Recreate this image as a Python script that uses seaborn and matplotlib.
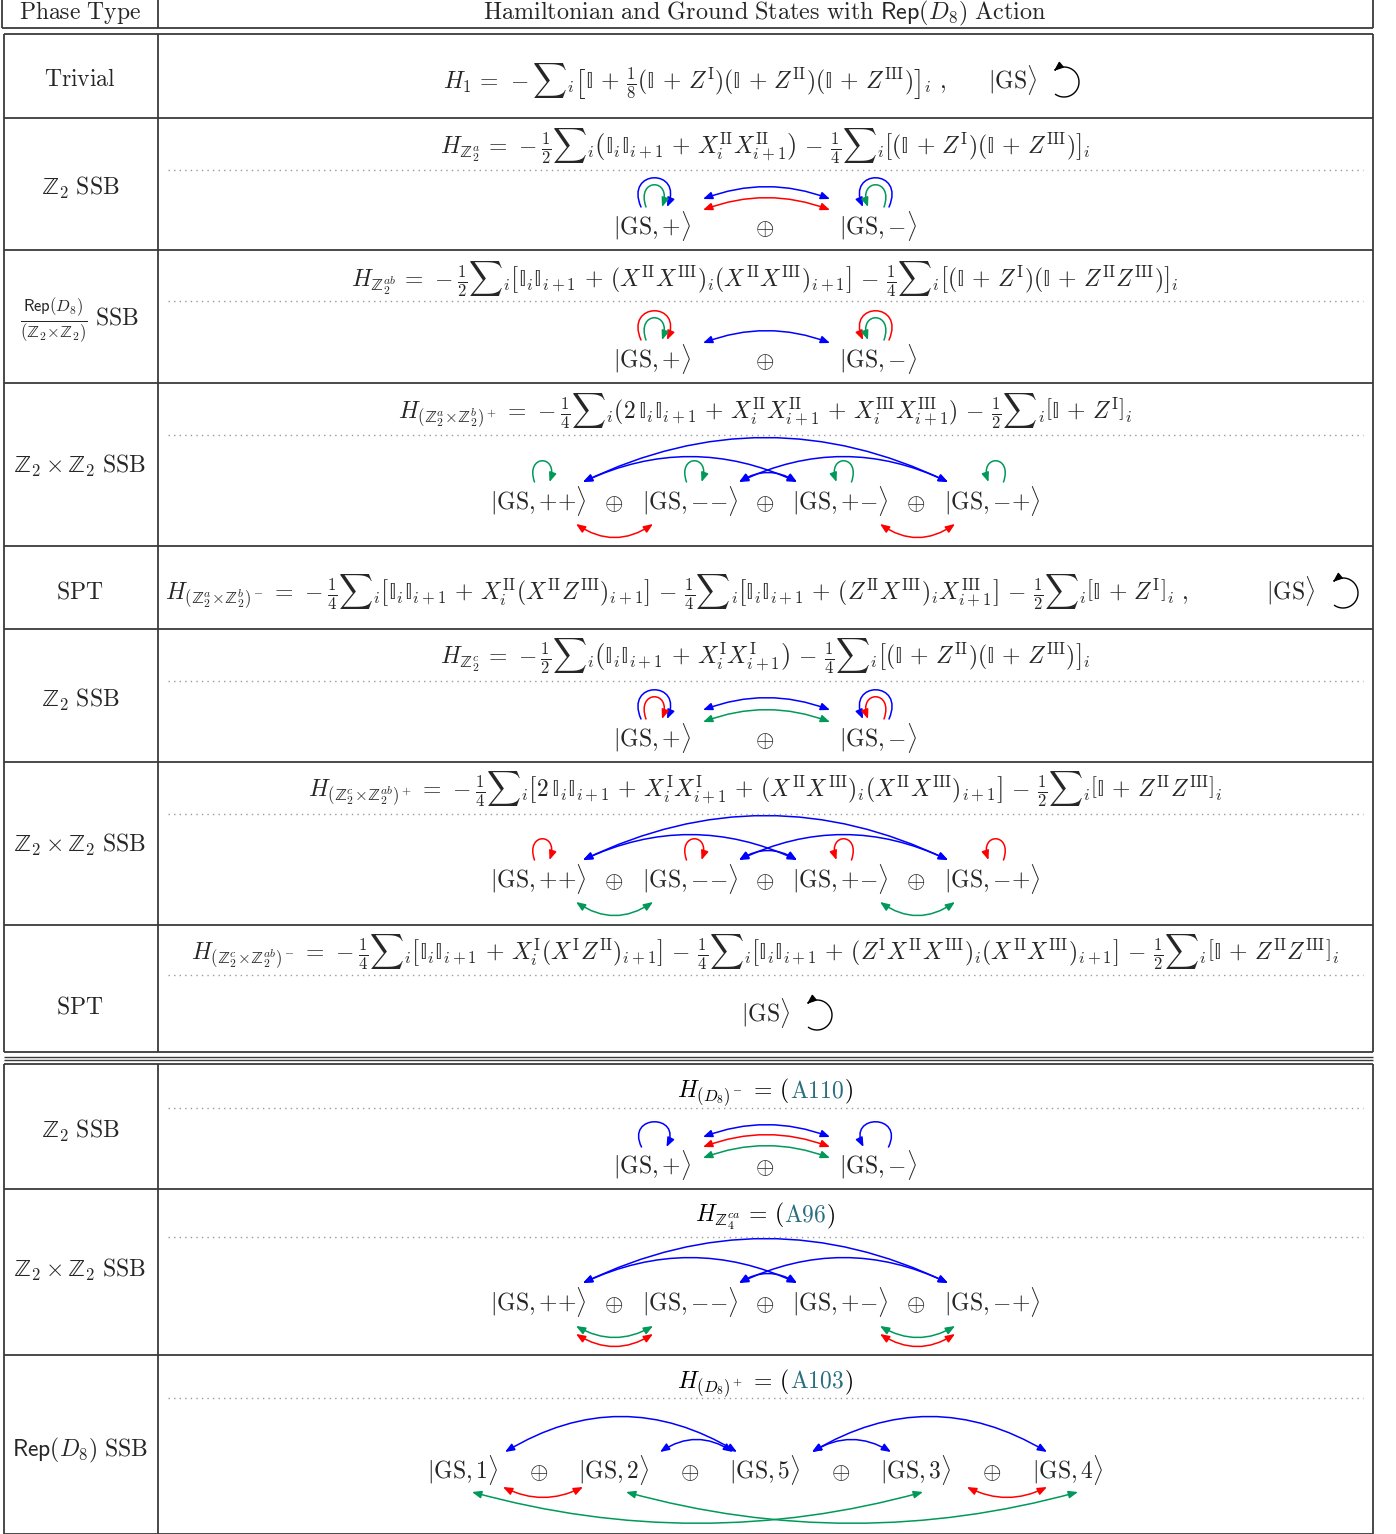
import matplotlib
matplotlib.use("Agg")
import matplotlib.pyplot as plt
import seaborn as sns
import numpy as np
from matplotlib.patches import FancyArrowPatch, ArrowStyle
from matplotlib.path import Path

sns.set_theme(style="white")
plt.rcParams["mathtext.fontset"] = "cm"
plt.rcParams["font.family"] = ["DejaVu Serif"]

BLUE, RED, GREEN, TEAL = "#0000ff", "#ff0000", "#00995a", "#2b6e80"
LINE = "#3a3a3a"
FS = 17

# ---------------- data ----------------
header_left = r"$\mathrm{Phase\ Type}$"
header_right = r"$\mathrm{Hamiltonian\ and\ Ground\ States\ with\ }\mathsf{Rep}(D_8)\mathrm{\ Action}$"

phase_types = [
    r"$\mathrm{Trivial}$",
    r"$ZZ_2\ \mathrm{SSB}$",
    r"$\frac{\mathsf{Rep}(D_8)}{(ZZ_2\!\times\!ZZ_2)}\ \mathrm{SSB}$",
    r"$ZZ_2 \times ZZ_2\ \mathrm{SSB}$",
    r"$\mathrm{SPT}$",
    r"$ZZ_2\ \mathrm{SSB}$",
    r"$ZZ_2 \times ZZ_2\ \mathrm{SSB}$",
    r"$\mathrm{SPT}$",
    r"$ZZ_2\ \mathrm{SSB}$",
    r"$ZZ_2 \times ZZ_2\ \mathrm{SSB}$",
    r"$\mathsf{Rep}(D_8)\ \mathrm{SSB}$",
]
label_y = [80, 188, 321, 466, 592, 700, 845, 1007, 1131, 1270, 1450]

# "II" = blackboard identity, "ZZ" = blackboard Z (expanded below)
hamiltonians = [
    r"$H_1 = -{\sum}_i \left[II + \frac{1}{8}(II + Z^{\mathrm{I}})(II + Z^{\mathrm{II}})(II + Z^{\mathrm{III}})\right]_i\ ,$",
    r"$H_{ZZ_2^a} = -\frac{1}{2}{\sum}_i \left(II_iII_{i+1} + X_i^{\mathrm{II}}X_{i+1}^{\mathrm{II}}\right) - \frac{1}{4}{\sum}_i \left[(II + Z^{\mathrm{I}})(II + Z^{\mathrm{III}})\right]_i$",
    r"$H_{ZZ_2^{ab}} = -\frac{1}{2}{\sum}_i \left[II_iII_{i+1} + (X^{\mathrm{II}}X^{\mathrm{III}})_i(X^{\mathrm{II}}X^{\mathrm{III}})_{i+1}\right] - \frac{1}{4}{\sum}_i \left[(II + Z^{\mathrm{I}})(II + Z^{\mathrm{II}}Z^{\mathrm{III}})\right]_i$",
    r"$H_{(ZZ_2^a\!\times\!ZZ_2^b)^+} = -\frac{1}{4}{\sum}_i(2\,II_iII_{i+1} + X_i^{\mathrm{II}}X_{i+1}^{\mathrm{II}} + X_i^{\mathrm{III}}X_{i+1}^{\mathrm{III}}) - \frac{1}{2}{\sum}_i \left[II + Z^{\mathrm{I}}\right]_i$",
    r"$H_{(ZZ_2^a\!\times\!ZZ_2^b)^-} = -\frac{1}{4}{\sum}_i \left[II_iII_{i+1} + X_i^{\mathrm{II}}(X^{\mathrm{II}}Z^{\mathrm{III}})_{i+1}\right] - \frac{1}{4}{\sum}_i \left[II_iII_{i+1} + (Z^{\mathrm{II}}X^{\mathrm{III}})_iX_{i+1}^{\mathrm{III}}\right] - \frac{1}{2}{\sum}_i \left[II + Z^{\mathrm{I}}\right]_i\ ,$",
    r"$H_{ZZ_2^c} = -\frac{1}{2}{\sum}_i \left(II_iII_{i+1} + X_i^{\mathrm{I}}X_{i+1}^{\mathrm{I}}\right) - \frac{1}{4}{\sum}_i \left[(II + Z^{\mathrm{II}})(II + Z^{\mathrm{III}})\right]_i$",
    r"$H_{(ZZ_2^c\!\times\!ZZ_2^{ab})^+} = -\frac{1}{4}{\sum}_i \left[2\,II_iII_{i+1} + X_i^{\mathrm{I}}X_{i+1}^{\mathrm{I}} + (X^{\mathrm{II}}X^{\mathrm{III}})_i(X^{\mathrm{II}}X^{\mathrm{III}})_{i+1}\right] - \frac{1}{2}{\sum}_i \left[II + Z^{\mathrm{II}}Z^{\mathrm{III}}\right]_i$",
    r"$H_{(ZZ_2^c\!\times\!ZZ_2^{ab})^-} = -\frac{1}{4}{\sum}_i \left[II_iII_{i+1} + X_i^{\mathrm{I}}(X^{\mathrm{I}}Z^{\mathrm{II}})_{i+1}\right] - \frac{1}{4}{\sum}_i \left[II_iII_{i+1} + (Z^{\mathrm{I}}X^{\mathrm{II}}X^{\mathrm{III}})_i(X^{\mathrm{II}}X^{\mathrm{III}})_{i+1}\right] - \frac{1}{2}{\sum}_i \left[II + Z^{\mathrm{II}}Z^{\mathrm{III}}\right]_i$",
    r"$H_{(D_8)^-} = ($",
    r"$H_{ZZ_4^{ca}} = ($",
    r"$H_{(D_8)^+} = ($",
]
equation_refs = [None] * 8 + ["A110", "A96", "A103"]
ham_baseline = [89, 154, 287, 419, 600, 664, 797, 960, 1097, 1222, 1388]
ham_anchor = [("right", 946), ("center", 765), ("center", 765), ("center", 765),
              ("left", 165), ("center", 765), ("center", 765), ("center", 765),
              ("center", 765), ("center", 765), ("center", 765)]

dotted_y = [None, 170, 301, 435, None, 681, 814, 975, 1108, 1237, 1398]

# ground states
gs_single = {0: (1012, 89, 1064, 82), 4: (1290, 600, 1343, 593), 7: (765, 1022, 817, 1015)}

two_states = [r"$|\mathrm{GS},{+}\rangle$", r"$|\mathrm{GS},{-}\rangle$"]
four_states = [r"$|\mathrm{GS},{+}{+}\rangle$", r"$|\mathrm{GS},{-}{-}\rangle$",
               r"$|\mathrm{GS},{+}{-}\rangle$", r"$|\mathrm{GS},{-}{+}\rangle$"]
five_states = [r"$|\mathrm{GS},1\rangle$", r"$|\mathrm{GS},2\rangle$", r"$|\mathrm{GS},5\rangle$",
               r"$|\mathrm{GS},3\rangle$", r"$|\mathrm{GS},4\rangle$"]
two_x = [652, 878]
four_x = [538, 690, 840, 992]
five_x = [463, 614, 765, 916, 1068]

state_rows = {1: (two_states, two_x, 228), 2: (two_states, two_x, 361),
              3: (four_states, four_x, 503), 5: (two_states, two_x, 740),
              6: (four_states, four_x, 881), 8: (two_states, two_x, 1167),
              9: (four_states, four_x, 1304), 10: (five_states, five_x, 1472)}


# links: (state i, dx_i, state j, dx_j, dy from state centre, bulge (+up / -down), colour)
def pair_top(dy, c):
    return (0, 51, 1, -48, dy, 12, c)


def four_top():
    return [(0, 45, 3, -44, -21, 44, BLUE), (0, 45, 2, -43, -21, 25, BLUE),
            (1, 49, 3, -44, -21, 25, BLUE), (1, 49, 2, -43, -21, 9, BLUE)]


links = {
    1: [pair_top(-29, BLUE), pair_top(-18, RED)],
    2: [pair_top(-18, BLUE)],
    3: four_top() + [(0, 38, 1, -37, 21, -13, RED), (2, 40, 3, -37, 21, -13, RED)],
    5: [pair_top(-30, BLUE), pair_top(-18, GREEN)],
    6: four_top() + [(0, 38, 1, -37, 21, -13, GREEN), (2, 40, 3, -37, 21, -13, GREEN)],
    8: [pair_top(-30, BLUE), pair_top(-20, RED), pair_top(-9, GREEN)],
    9: four_top() + [(0, 38, 1, -37, 22, -11, GREEN), (2, 40, 3, -37, 22, -11, GREEN),
                     (0, 38, 1, -37, 30, -12, RED), (2, 40, 3, -37, 30, -12, RED)],
    10: [(0, 42, 2, -28, -20, 35, BLUE), (1, 46, 2, -32, -20, 12, BLUE),
         (2, 47, 3, -25, -20, 12, BLUE), (2, 47, 4, -21, -20, 35, BLUE),
         (0, 40, 1, -31, 15, -10, RED), (3, 51, 4, -21, 15, -10, RED),
         (0, 9, 3, 7, 20, -31, GREEN), (1, 12, 4, 10, 20, -31, GREEN)],
}


# self loops: (state i, dx, foot width, foot dy, height, colour, arrow on right?)
def big_pair(outer, inner):
    return [(0, 2, 26, -21, 29, outer, True), (0, 2, 16, -21, 22, inner, True),
            (1, -2, 26, -21, 29, outer, False), (1, -2, 16, -21, 22, inner, False)]


def small_four(c):
    return [(0, 4, 15, -21, 21, c, True), (1, 4, 15, -21, 21, c, True),
            (2, 4, 15, -21, 21, c, False), (3, 4, 15, -21, 21, c, False)]


loops = {
    1: big_pair(BLUE, GREEN),
    2: big_pair(RED, GREEN),
    3: small_four(GREEN),
    5: big_pair(BLUE, RED),
    6: small_four(RED),
    8: [(0, 2, 25, -20, 25, BLUE, True), (1, -2, 25, -20, 25, BLUE, False)],
}


def tex(s):
    """Expand shorthands and widen operator spacing to TeX-like values."""
    s = s.replace("II_", r"\mathrm{\mathbb{I}}_").replace("II ", r"\mathrm{\mathbb{I}} ")
    s = s.replace("II)", r"\mathrm{\mathbb{I}})").replace("II\\", r"\mathrm{\mathbb{I}}\\")
    s = s.replace("ZZ", r"\mathrm{\mathbb{Z}}")
    s = s.replace(" + ", r"\,+\,").replace(" - ", r"\,-\,").replace(" = ", r"\,=\,")
    return s


# ---------------- figure ----------------
W, H = 1396, 1534
fig = plt.figure(figsize=(W / 100, H / 100), dpi=100)
ax = fig.add_axes([0, 0, 1, 1])
renderer = fig.canvas.get_renderer()

AS = ArrowStyle("<|-|>", head_length=0.55, head_width=0.22)
AS1 = ArrowStyle("-|>", head_length=0.55, head_width=0.22)

for y in dotted_y:
    if y is None:
        continue
    sns.lineplot(x=[168, 1363], y=[y, y], ax=ax, color="#9a9a9a", lw=1.0,
                 linestyle=(0, (1, 3)), legend=False)
ax.set_xlim(0, W)
ax.set_ylim(H, 0)
ax.axis("off")

# table rules
LW = 1.3
ax.hlines(28, 2, 1373, color=LINE, lw=LW)
ax.vlines([2, 158, 1373], 0, 28, color=LINE, lw=LW)
for top, bot in [(34, 1052), (1064, 1534)]:
    ax.hlines([top, bot], 4, 1373, color=LINE, lw=LW)
    ax.vlines([4, 158, 1373], top, bot, color=LINE, lw=LW)
ax.hlines([118, 250, 383, 546, 629, 762, 925, 1189, 1355], 4, 1373, color=LINE, lw=LW)
ax.hlines([1057, 1060], 4, 1373, color=LINE, lw=1.0)

# header
ax.text(80, 19, header_left, ha="center", va="baseline", fontsize=FS)
ax.text(765, 19, header_right, ha="center", va="baseline", fontsize=FS + 0.4)

# labels
for lab, y in zip(phase_types, label_y):
    ax.text(80, y, tex(lab), ha="center", va="center", fontsize=FS)

# hamiltonians
for ham, yb, (ha, xa), ref in zip(hamiltonians, ham_baseline, ham_anchor, equation_refs):
    if ref is None:
        ax.text(xa, yb, tex(ham), ha=ha, va="baseline", fontsize=FS)
    else:
        pieces = [(tex(ham), "black"), (r"$\mathrm{" + ref + "}$", TEAL), (r"$)$", "black")]
        ts = [ax.text(0, yb, s, ha="left", va="baseline", fontsize=FS, color=c) for s, c in pieces]
        widths = [t.get_window_extent(renderer).width for t in ts]
        x0 = xa - sum(widths) / 2
        for t, w in zip(ts, widths):
            t.set_x(x0)
            x0 += w


def ccw_loop(cx, cy, r):
    th = np.deg2rad(np.linspace(-125, 132, 60))
    verts = np.column_stack([cx + r * np.cos(th), cy - r * np.sin(th)])
    p = FancyArrowPatch(path=Path(verts), arrowstyle=AS1, mutation_scale=10,
                        color="black", lw=1.0)
    ax.add_patch(p)


for k, (gx, gy, lx, ly) in gs_single.items():
    ax.text(gx, gy, r"$|\mathrm{GS}\rangle$", ha="center", va="baseline", fontsize=FS)
    ccw_loop(lx, ly, 15)

# states
for k, (labels, xs, sy) in state_rows.items():
    for lab, x in zip(labels, xs):
        ax.text(x, sy + 7, lab, ha="center", va="baseline", fontsize=FS)
    for a, b in zip(xs[:-1], xs[1:]):
        ax.text((a + b) / 2, sy + 7, r"$\oplus$", ha="center", va="baseline", fontsize=FS)
    for (i, dxi, j, dxj, dy, bulge, c) in links.get(k, []):
        xA, xB = xs[i] + dxi, xs[j] + dxj
        d = abs(xB - xA)
        rad = -2.0 * bulge / d
        p = FancyArrowPatch((xA, sy + dy), (xB, sy + dy), connectionstyle=f"arc3,rad={rad:.4f}",
                            arrowstyle=AS, mutation_scale=10, color=c, lw=1.1,
                            shrinkA=0, shrinkB=0)
        ax.add_patch(p)
    for (i, dx, w, fdy, h, c, right) in loops.get(k, []):
        cx = xs[i] + dx
        yf = sy + fdy
        a, b = w / 2, 0.65 * w
        hc = h / 0.75
        verts = [(cx - a, yf), (cx - a - b, yf - hc), (cx + a + b, yf - hc), (cx + a, yf)]
        if not right:
            verts = verts[::-1]
        path = Path(verts, [Path.MOVETO, Path.CURVE4, Path.CURVE4, Path.CURVE4])
        ax.add_patch(FancyArrowPatch(path=path, arrowstyle=AS1, mutation_scale=10,
                                     color=c, lw=1.1))

fig.savefig("out.png", dpi=100)
